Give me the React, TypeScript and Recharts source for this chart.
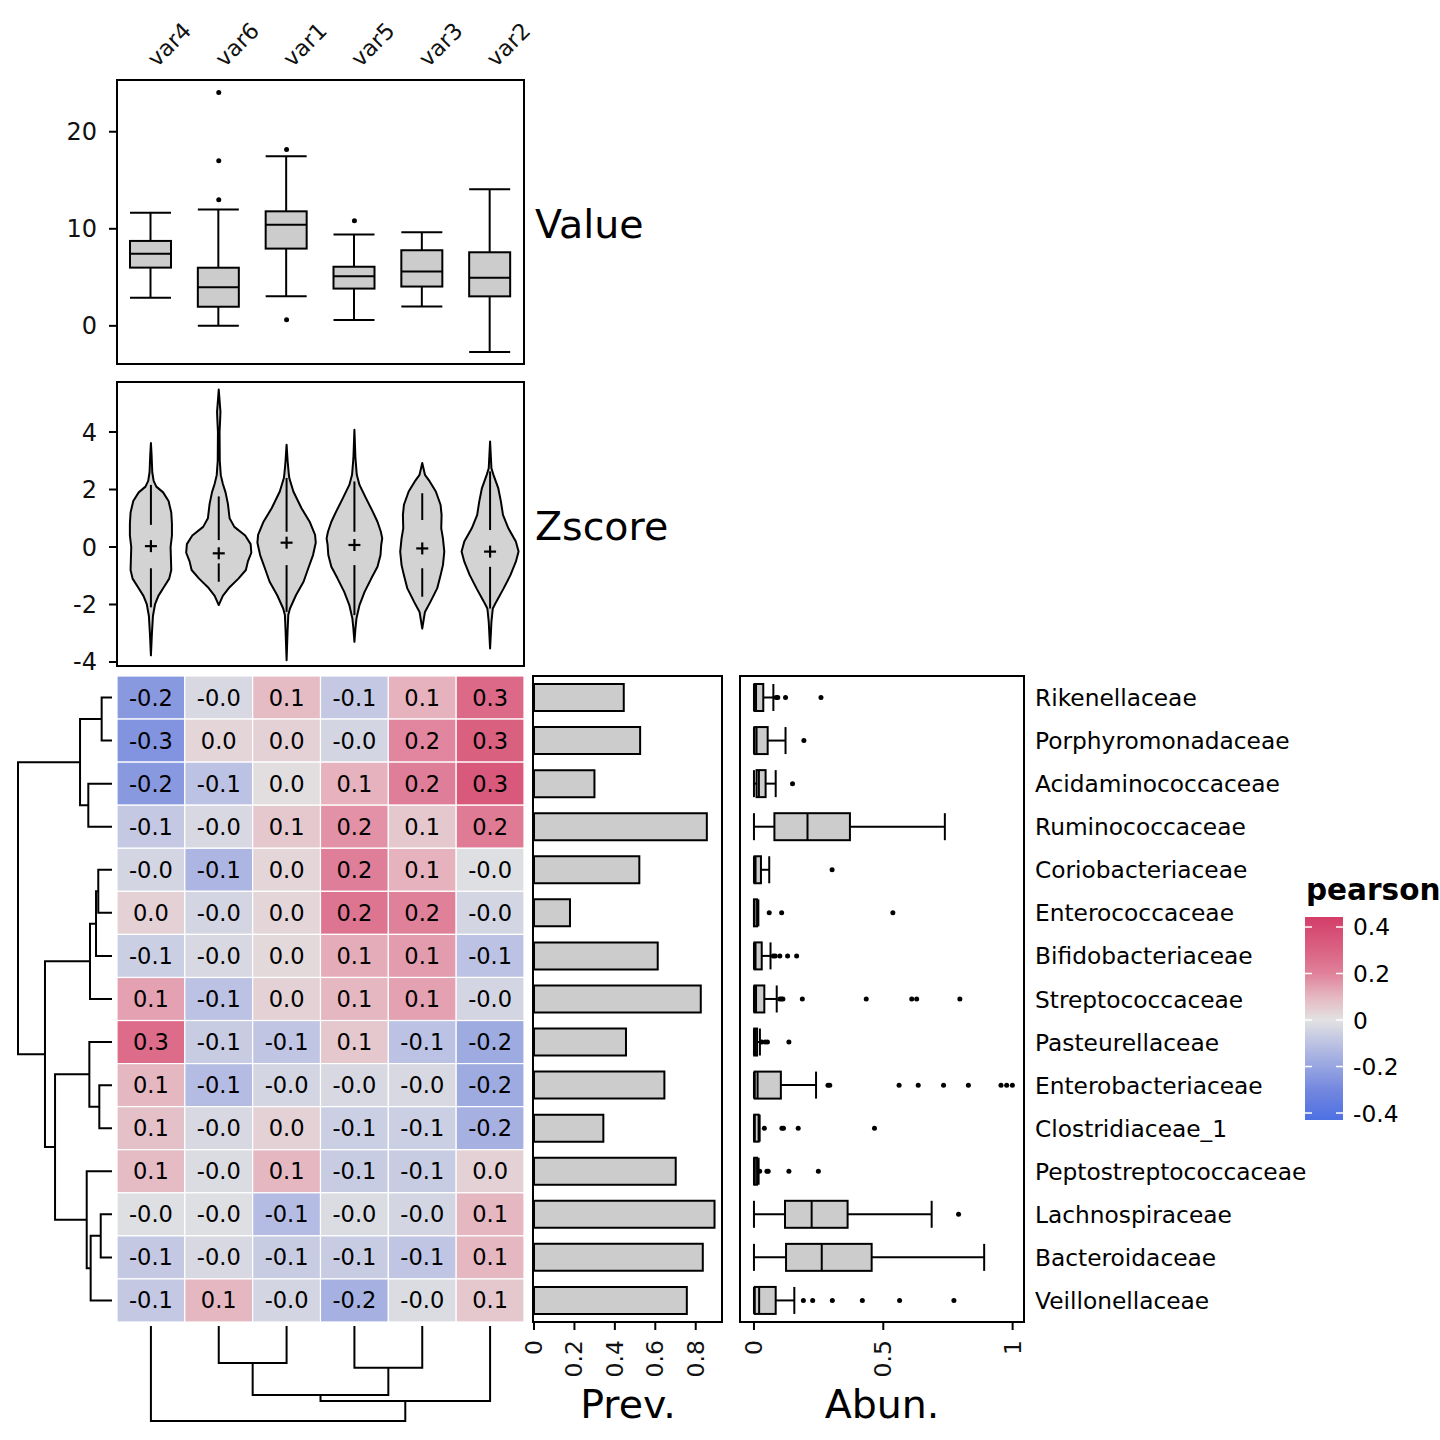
import React from 'react';
import { ComposedChart, ScatterChart, Scatter, Bar, XAxis, YAxis } from 'recharts';

const FONT = '"DejaVu Sans", Verdana, sans-serif';
const INK = '#000000';
const TICK_INK = '#111111';
const BOX_FILL = '#cccccc';
const VIOLIN_FILL = '#d3d3d3';
const LW = 2;

const VARS = ['var4', 'var6', 'var1', 'var5', 'var3', 'var2'];
const FAMILIES = [
  'Rikenellaceae', 'Porphyromonadaceae', 'Acidaminococcaceae', 'Ruminococcaceae', 'Coriobacteriaceae',
  'Enterococcaceae', 'Bifidobacteriaceae', 'Streptococcaceae', 'Pasteurellaceae', 'Enterobacteriaceae',
  'Clostridiaceae_1', 'Peptostreptococcaceae', 'Lachnospiraceae', 'Bacteroidaceae', 'Veillonellaceae',
];

// "Value" panel: boxplot statistics per variable
const VALUE_LOW = [2.9, 0, 3.05, 0.6, 2.0, -2.7];
const VALUE_Q1 = [6.0, 1.97, 7.96, 3.84, 4.05, 3.04];
const VALUE_MEDIAN = [7.44, 3.98, 10.42, 5.12, 5.61, 4.95];
const VALUE_Q3 = [8.75, 5.99, 11.8, 6.09, 7.79, 7.58];
const VALUE_HIGH = [11.66, 12.0, 17.47, 9.41, 9.65, 14.08];
const VALUE_OUTLIERS = [[], [24.05, 17.02, 12.98], [18.17, 0.62], [10.83], [], []];
const VALUE_TICKS = [0, 10, 20];

// "Zscore" panel: violin half-width (in columns) at z levels, top to bottom
const VIOLIN_VAR4 = [[3.62, 0], [3.2, 0.01], [2.6, 0.02], [2.3, 0.04], [2.1, 0.08], [1.9, 0.18], [1.6, 0.26], [1.2, 0.3], [0.8, 0.31], [0.4, 0.31], [0, 0.29], [-0.4, 0.295], [-0.8, 0.3], [-1.1, 0.27], [-1.4, 0.19], [-1.7, 0.11], [-2, 0.06], [-2.4, 0.03], [-3, 0.015], [-3.77, 0]];
const VIOLIN_VAR6 = [[5.48, 0], [5.1, 0.012], [4.7, 0.025], [4.4, 0.02], [4.0, 0.012], [3.0, 0.015], [2.5, 0.03], [2.2, 0.06], [1.9, 0.1], [1.5, 0.135], [1.0, 0.16], [0.7, 0.23], [0.4, 0.39], [0.1, 0.47], [-0.2, 0.48], [-0.5, 0.43], [-0.8, 0.4], [-1.1, 0.29], [-1.4, 0.16], [-1.7, 0.06], [-2.02, 0]];
const VIOLIN_VAR1 = [[3.56, 0], [3.0, 0.015], [2.6, 0.03], [2.4, 0.04], [1.93, 0.1], [1.35, 0.22], [0.88, 0.34], [0.42, 0.42], [0.15, 0.43], [-0.28, 0.39], [-0.74, 0.32], [-1.21, 0.25], [-1.67, 0.14], [-2.14, 0.05], [-2.37, 0.025], [-2.9, 0.015], [-3.94, 0]];
const VIOLIN_VAR5 = [[4.08, 0], [3.09, 0.015], [2.51, 0.035], [2.16, 0.075], [1.7, 0.17], [1.23, 0.27], [0.88, 0.34], [0.53, 0.39], [0.3, 0.41], [0.07, 0.395], [-0.28, 0.385], [-0.69, 0.34], [-1.09, 0.25], [-1.56, 0.15], [-2.02, 0.075], [-2.49, 0.03], [-2.84, 0.015], [-3.3, 0]];
const VIOLIN_VAR3 = [[2.92, 0], [2.51, 0.04], [2.28, 0.11], [1.93, 0.2], [1.47, 0.27], [1.12, 0.285], [0.65, 0.28], [0.3, 0.305], [-0.16, 0.325], [-0.63, 0.305], [-0.98, 0.27], [-1.44, 0.22], [-1.91, 0.12], [-2.26, 0.04], [-2.84, 0]];
const VIOLIN_VAR2 = [[3.67, 0], [2.74, 0.02], [2.51, 0.05], [2.05, 0.12], [1.58, 0.16], [1.12, 0.19], [0.65, 0.27], [0.19, 0.38], [-0.16, 0.42], [-0.51, 0.38], [-0.98, 0.3], [-1.44, 0.2], [-1.91, 0.09], [-2.14, 0.04], [-2.6, 0.02], [-3.53, 0]];
const VIOLIN_PROFILES = [VIOLIN_VAR4, VIOLIN_VAR6, VIOLIN_VAR1, VIOLIN_VAR5, VIOLIN_VAR3, VIOLIN_VAR2];
const Z_MEAN = [0.03, -0.22, 0.15, 0.07, -0.05, -0.16];
const Z_UPPER = [[2.16, 0.77], [1.76, 0.24], [2.4, 0.53], [2.28, 0.53], [1.87, 0.94], [2.63, 0.59]];
const Z_LOWER = [[-0.74, -2.1], [-0.57, -1.21], [-0.63, -2.26], [-0.63, -2.37], [-0.74, -1.73], [-0.69, -2.14]];
const Z_TICKS = [-4, -2, 0, 2, 4];

// heatmap: pearson r, rows = FAMILIES, columns = VARS
const PEARSON = [
  [-0.24, -0.03, 0.09, -0.08, 0.11, 0.28],
  [-0.26, 0.03, 0.04, -0.04, 0.19, 0.31],
  [-0.24, -0.1, 0.01, 0.11, 0.21, 0.34],
  [-0.08, -0.03, 0.06, 0.17, 0.06, 0.22],
  [-0.04, -0.14, 0.03, 0.21, 0.11, -0.01],
  [0.04, -0.04, 0.03, 0.24, 0.2, -0.04],
  [-0.06, -0.03, 0.02, 0.12, 0.15, -0.1],
  [0.14, -0.1, 0.04, 0.1, 0.14, -0.04],
  [0.27, -0.07, -0.09, 0.06, -0.1, -0.18],
  [0.1, -0.12, -0.04, -0.03, -0.03, -0.18],
  [0.08, -0.03, 0.04, -0.06, -0.06, -0.16],
  [0.09, -0.02, 0.1, -0.07, -0.07, 0.04],
  [-0.01, -0.01, -0.12, -0.02, -0.04, 0.1],
  [-0.08, -0.03, -0.07, -0.07, -0.09, 0.1],
  [-0.08, 0.1, -0.04, -0.16, -0.02, 0.06],
];

// "Prev." panel
const PREVALENCE = [0.444, 0.525, 0.299, 0.855, 0.521, 0.178, 0.612, 0.825, 0.455, 0.645, 0.343, 0.701, 0.893, 0.835, 0.756];
const PREV_TICKS = [0, 0.2, 0.4, 0.6, 0.8];

// "Abun." panel: boxplot statistics per family
const ABUN_LOW = [0, 0, 0, 0, 0, 0, 0, 0, 0, 0, 0, 0, 0, 0, 0];
const ABUN_Q1 = [0.002, 0.002, 0.01, 0.079, 0.002, 0, 0.002, 0.002, 0.001, 0.003, 0.001, 0.001, 0.12, 0.124, 0.003];
const ABUN_MEDIAN = [0.008, 0.01, 0.019, 0.207, 0.006, 0.002, 0.006, 0.008, 0.004, 0.014, 0.003, 0.003, 0.223, 0.262, 0.02];
const ABUN_Q3 = [0.036, 0.053, 0.045, 0.371, 0.027, 0.012, 0.03, 0.04, 0.012, 0.104, 0.018, 0.012, 0.362, 0.455, 0.084];
const ABUN_HIGH = [0.075, 0.122, 0.084, 0.738, 0.059, 0.017, 0.064, 0.088, 0.023, 0.24, 0.022, 0.018, 0.687, 0.89, 0.156];
const ABUN_OUTLIERS = [
  [0.086, 0.092, 0.122, 0.259],
  [0.193],
  [0.149],
  [],
  [0.302],
  [0.059, 0.107, 0.537],
  [0.075, 0.082, 0.1, 0.13, 0.165],
  [0.1, 0.106, 0.112, 0.187, 0.434, 0.61, 0.629, 0.796],
  [0.03, 0.043, 0.052, 0.135],
  [0.286, 0.293, 0.561, 0.635, 0.733, 0.829, 0.955, 0.977, 0.999],
  [0.04, 0.108, 0.114, 0.171, 0.466],
  [0.022, 0.05, 0.055, 0.135, 0.249],
  [0.791],
  [],
  [0.191, 0.227, 0.303, 0.419, 0.563, 0.773],
];
const ABUN_TICKS = [0, 0.5, 1];

// dendrograms, hclust style: negative = leaf position, positive = earlier merge
const ROW_MERGES = [
  [-1, -2, 0.11], [-3, -4, 0.252], [1, 2, 0.34], [-5, -6, 0.146], [4, -7, 0.17],
  [5, -8, 0.234], [-10, -11, 0.135], [-9, 7, 0.241], [-13, -14, 0.12], [9, -15, 0.227],
  [-12, 10, 0.269], [8, 11, 0.606], [6, 12, 0.713], [3, 13, 1.0],
];
const COL_MERGES = [[-2, -3, 0.39], [-4, -5, 0.44], [1, 2, 0.726], [3, -6, 0.79], [-1, 4, 1.0]];

const LEGEND_TICKS = [0.4, 0.2, 0, -0.2, -0.4];
const PEARSON_STOPS: [number, string][] = [
  [-0.44, '#4a6fe3'], [-0.3, '#7487df'], [-0.2, '#97a5e1'], [-0.1, '#bcc2e3'], [0, '#e2e2e2'],
  [0.1, '#e5b7c1'], [0.2, '#e0819a'], [0.3, '#da6382'], [0.44, '#d33f6a'],
];

function hexRgb(h: string) {
  return [1, 3, 5].map((i) => parseInt(h.slice(i, i + 2), 16));
}

function pearsonColor(v: number) {
  const s = PEARSON_STOPS;
  if (v <= s[0][0]) return s[0][1];
  if (v >= s[s.length - 1][0]) return s[s.length - 1][1];
  for (let i = 1; i < s.length; i++) {
    if (v <= s[i][0]) {
      const t = (v - s[i - 1][0]) / (s[i][0] - s[i - 1][0]);
      const a = hexRgb(s[i - 1][1]);
      const b = hexRgb(s[i][1]);
      const c = a.map((x, k) => Math.round(x + (b[k] - x) * t));
      return `rgb(${c[0]},${c[1]},${c[2]})`;
    }
  }
  return s[0][1];
}

function dendroElbows(merges: number[][]) {
  const pos: number[] = [];
  const hgt: number[] = [];
  return merges.map(([a, b, h], i) => {
    const pa = a < 0 ? -a : pos[a - 1];
    const ha = a < 0 ? 0 : hgt[a - 1];
    const pb = b < 0 ? -b : pos[b - 1];
    const hb = b < 0 ? 0 : hgt[b - 1];
    pos[i] = (pa + pb) / 2;
    hgt[i] = h;
    return [{ p: pa, h: ha }, { p: pa, h }, { p: pb, h }, { p: pb, h: hb }];
  });
}

const CELL_W = 407 / 6;
const CELL_H = 646 / 15;

const NoMark = () => <g />;

function Dot(props: any) {
  return <circle cx={props.cx} cy={props.cy} r={2.5} fill={INK} />;
}

function PlusMark(props: any) {
  const { cx, cy } = props;
  return (
    <g stroke={INK} strokeWidth={2.2}>
      <line x1={cx - 6} x2={cx + 6} y1={cy} y2={cy} />
      <line x1={cx} x2={cx} y1={cy - 6} y2={cy + 6} />
    </g>
  );
}

function HeatCell(props: any) {
  const { cx, cy, payload } = props;
  return (
    <g>
      <rect x={cx - CELL_W / 2} y={cy - CELL_H / 2} width={CELL_W} height={CELL_H} fill={pearsonColor(payload.v)} stroke="#ffffff" strokeWidth={1.2} />
      <text x={cx} y={cy} textAnchor="middle" dominantBaseline="central" fontSize={22.5} fill={INK}>
        {payload.v.toFixed(1)}
      </text>
    </g>
  );
}

// vertical box: bar spans low..high, inner stats placed on the same linear scale
function VBox(props: any) {
  const { x, y, width, height, payload } = props;
  const top = Math.min(y, y + height);
  const h = Math.abs(height);
  const { low, q1, median, q3, high } = payload;
  const py = (v: number) => top + ((high - v) / (high - low)) * h;
  const cx = x + width / 2;
  return (
    <g stroke={INK} strokeWidth={LW}>
      <line x1={cx} x2={cx} y1={py(high)} y2={py(q3)} />
      <line x1={cx} x2={cx} y1={py(q1)} y2={py(low)} />
      <line x1={x} x2={x + width} y1={py(high)} y2={py(high)} />
      <line x1={x} x2={x + width} y1={py(low)} y2={py(low)} />
      <rect x={x} y={py(q3)} width={width} height={py(q1) - py(q3)} fill={BOX_FILL} />
      <line x1={x} x2={x + width} y1={py(median)} y2={py(median)} />
    </g>
  );
}

// horizontal box for the abundance panel
function HBox(props: any) {
  const { x, y, width, height, payload } = props;
  const left = Math.min(x, x + width);
  const w = Math.abs(width);
  const { low, q1, median, q3, high } = payload;
  const px = (v: number) => left + ((v - low) / (high - low)) * w;
  const cy = y + height / 2;
  return (
    <g stroke={INK} strokeWidth={LW}>
      <line x1={px(low)} x2={px(q1)} y1={cy} y2={cy} />
      <line x1={px(q3)} x2={px(high)} y1={cy} y2={cy} />
      <line x1={px(low)} x2={px(low)} y1={y} y2={y + height} />
      <line x1={px(high)} x2={px(high)} y1={y} y2={y + height} />
      <rect x={px(q1)} y={y} width={px(q3) - px(q1)} height={height} fill={BOX_FILL} />
      <line x1={px(median)} x2={px(median)} y1={y} y2={y + height} />
    </g>
  );
}

function violinPath(p: any) {
  const d = 'M' + p.points.map((pt: any) => `${pt.x},${pt.y}`).join('L') + 'Z';
  return <path d={d} fill={VIOLIN_FILL} stroke={INK} strokeWidth={LW} strokeLinejoin="round" />;
}

function VarTick(props: any) {
  const { x, payload } = props;
  const ax = x + 6;
  const ay = 68;
  return (
    <text x={ax} y={ay} transform={`rotate(-45, ${ax}, ${ay})`} fontSize={22.5} fill={TICK_INK}>
      {payload.value}
    </text>
  );
}

function RotTick(props: any) {
  const { x, y, payload } = props;
  return (
    <text x={x} y={y} transform={`rotate(-90, ${x}, ${y})`} textAnchor="end" dominantBaseline="central" fontSize={23.5} fill={TICK_INK}>
      {String(payload.value)}
    </text>
  );
}

function FamilyTick(props: any) {
  const { x, y, payload } = props;
  return (
    <text x={x} y={y} dominantBaseline="central" fontSize={23.3} fill={INK}>
      {payload.value}
    </text>
  );
}

const lineStyle = { stroke: INK, strokeWidth: LW };
const tickLineStyle = { stroke: INK, strokeWidth: LW };
const yTickText = { fontSize: 24, fill: TICK_INK };

export default function App() {
  const valueData = VARS.map((name, i) => ({
    name, low: VALUE_LOW[i], q1: VALUE_Q1[i], median: VALUE_MEDIAN[i], q3: VALUE_Q3[i], high: VALUE_HIGH[i],
  }));
  const valueOutliers = VALUE_OUTLIERS.flatMap((arr, i) => arr.map((v) => ({ x: i + 1, y: v })));

  const violins = VIOLIN_PROFILES.map((prof, i) => {
    const c = i + 1;
    const right = prof.map(([z, hw]) => ({ x: c + hw, y: z }));
    const left = prof.slice().reverse().map(([z, hw]) => ({ x: c - hw, y: z }));
    return right.concat(left);
  });

  const heatData = PEARSON.flatMap((row, r) => row.map((v, c) => ({ x: c + 1, y: r + 1, v })));

  const prevData = FAMILIES.map((name, i) => ({ name, prev: PREVALENCE[i] }));
  const abunData = FAMILIES.map((name, i) => ({
    name, low: ABUN_LOW[i], q1: ABUN_Q1[i], median: ABUN_MEDIAN[i], q3: ABUN_Q3[i], high: ABUN_HIGH[i],
  }));
  const abunOutliers = ABUN_OUTLIERS.flatMap((arr, i) => arr.map((v) => ({ x: v, y: i + 1 })));

  const rowElbows = dendroElbows(ROW_MERGES);
  const colElbows = dendroElbows(COL_MERGES);

  const legTop = 917;
  const legBottom = 1120;
  const legMax = 0.443;
  const legMin = -0.43;
  const legY = (v: number) => legTop + ((legMax - v) / (legMax - legMin)) * (legBottom - legTop);
  const gradStops = [legMax, ...PEARSON_STOPS.map((s) => s[0]).filter((v) => v < legMax && v > legMin).reverse(), legMin];

  return (
    <div style={{ position: 'absolute', left: 0, top: 0, width: 1440, height: 1440, background: '#ffffff', fontFamily: FONT, overflow: 'hidden' }}>
      {/* Value boxplots */}
      <div style={{ position: 'absolute', left: 0, top: 0 }}>
        <ComposedChart width={540} height={380} data={valueData} margin={{ top: 20, right: 16, bottom: 16, left: 57 }}>
          <XAxis dataKey="name" orientation="top" height={60} axisLine={false} tickLine={false} interval={0} tick={VarTick} />
          <YAxis type="number" domain={[-3.93, 25.33]} ticks={VALUE_TICKS} width={60} axisLine={false} tickSize={8} tickMargin={12} tickLine={tickLineStyle} tick={yTickText} />
          <Bar dataKey={(d: any) => [d.low, d.high]} barSize={41} shape={VBox} isAnimationActive={false} />
        </ComposedChart>
      </div>
      <div style={{ position: 'absolute', left: 0, top: 0 }}>
        <ScatterChart width={540} height={380} margin={{ top: 80, right: 16, bottom: 16, left: 117 }}>
          <XAxis type="number" dataKey="x" domain={[0.5, 6.5]} hide />
          <YAxis type="number" dataKey="y" domain={[-3.93, 25.33]} hide />
          <Scatter data={valueOutliers} shape={Dot} isAnimationActive={false} />
        </ScatterChart>
      </div>

      {/* Zscore violins */}
      <div style={{ position: 'absolute', left: 0, top: 370 }}>
        <ScatterChart width={540} height={310} margin={{ top: 12, right: 16, bottom: 14, left: 57 }}>
          <XAxis type="number" dataKey="x" domain={[0.5, 6.5]} hide />
          <YAxis type="number" dataKey="y" domain={[-4.14, 5.74]} ticks={Z_TICKS} width={60} axisLine={false} tickSize={8} tickMargin={12} tickLine={tickLineStyle} tick={yTickText} />
          {violins.map((pts, i) => (
            <Scatter key={`v${i}`} data={pts} line={violinPath} shape={NoMark} isAnimationActive={false} />
          ))}
          {Z_UPPER.map(([a, b], i) => (
            <Scatter key={`u${i}`} data={[{ x: i + 1, y: a }, { x: i + 1, y: b }]} line={lineStyle} shape={NoMark} isAnimationActive={false} />
          ))}
          {Z_LOWER.map(([a, b], i) => (
            <Scatter key={`l${i}`} data={[{ x: i + 1, y: a }, { x: i + 1, y: b }]} line={lineStyle} shape={NoMark} isAnimationActive={false} />
          ))}
          <Scatter data={Z_MEAN.map((m, i) => ({ x: i + 1, y: m }))} shape={PlusMark} isAnimationActive={false} />
        </ScatterChart>
      </div>

      {/* heatmap */}
      <div style={{ position: 'absolute', left: 117, top: 676 }}>
        <ScatterChart width={407} height={646} margin={{ top: 0, right: 0, bottom: 0, left: 0 }}>
          <XAxis type="number" dataKey="x" domain={[0.5, 6.5]} hide />
          <YAxis type="number" dataKey="y" domain={[0.5, 15.5]} reversed hide />
          <Scatter data={heatData} shape={HeatCell} isAnimationActive={false} />
        </ScatterChart>
      </div>

      {/* row dendrogram */}
      <div style={{ position: 'absolute', left: 0, top: 676 }}>
        <ScatterChart width={112} height={646} margin={{ top: 0, right: 0, bottom: 0, left: 18 }}>
          <XAxis type="number" dataKey="h" domain={[0, 1]} reversed hide />
          <YAxis type="number" dataKey="p" domain={[0.5, 15.5]} reversed hide />
          {rowElbows.map((pts, i) => (
            <Scatter key={`r${i}`} data={pts} line={lineStyle} shape={NoMark} isAnimationActive={false} />
          ))}
        </ScatterChart>
      </div>

      {/* column dendrogram */}
      <div style={{ position: 'absolute', left: 117, top: 1322 }}>
        <ScatterChart width={407} height={110} margin={{ top: 4, right: 0, bottom: 11, left: 0 }}>
          <XAxis type="number" dataKey="p" domain={[0.5, 6.5]} hide />
          <YAxis type="number" dataKey="h" domain={[0, 1]} reversed hide />
          {colElbows.map((pts, i) => (
            <Scatter key={`c${i}`} data={pts} line={lineStyle} shape={NoMark} isAnimationActive={false} />
          ))}
        </ScatterChart>
      </div>

      {/* Prev. bars */}
      <div style={{ position: 'absolute', left: 520, top: 676 }}>
        <ComposedChart layout="vertical" width={215} height={760} data={prevData} margin={{ top: 0, right: 13, bottom: 54, left: 13 }}>
          <YAxis type="category" dataKey="name" hide />
          <XAxis type="number" domain={[-0.005, 0.93]} ticks={PREV_TICKS} height={60} axisLine={false} tickSize={8} tickMargin={10} tickLine={tickLineStyle} interval={0} tick={RotTick} />
          <Bar dataKey="prev" barSize={27} fill={BOX_FILL} stroke={INK} strokeWidth={LW} isAnimationActive={false} />
        </ComposedChart>
      </div>

      {/* Abun. boxplots */}
      <div style={{ position: 'absolute', left: 735, top: 676 }}>
        <ComposedChart layout="vertical" width={600} height={760} data={abunData} margin={{ top: 0, right: 11, bottom: 54, left: 5 }}>
          <YAxis type="category" dataKey="name" orientation="right" width={300} axisLine={false} tickLine={false} tickSize={0} tickMargin={11} interval={0} tick={FamilyTick} />
          <XAxis type="number" domain={[-0.054, 1.044]} ticks={ABUN_TICKS} height={60} axisLine={false} tickSize={8} tickMargin={10} tickLine={tickLineStyle} interval={0} tick={RotTick} />
          <Bar dataKey={(d: any) => [d.low, d.high]} barSize={27} shape={HBox} isAnimationActive={false} />
        </ComposedChart>
      </div>
      <div style={{ position: 'absolute', left: 735, top: 676 }}>
        <ScatterChart width={300} height={646} margin={{ top: 0, right: 11, bottom: 0, left: 5 }}>
          <XAxis type="number" dataKey="x" domain={[-0.054, 1.044]} hide />
          <YAxis type="number" dataKey="y" domain={[0.5, 15.5]} reversed hide />
          <Scatter data={abunOutliers} shape={Dot} isAnimationActive={false} />
        </ScatterChart>
      </div>

      {/* frames, titles, legend */}
      <svg width={1440} height={1440} style={{ position: 'absolute', left: 0, top: 0, pointerEvents: 'none' }}>
        <g fill="none" stroke={INK} strokeWidth={2}>
          <rect x={117} y={80} width={407} height={284} />
          <rect x={117} y={382} width={407} height={284} />
          <rect x={533} y={676} width={189} height={646} />
          <rect x={740} y={676} width={284} height={646} />
        </g>
        <g fontSize={39.5} fill={INK}>
          <text x={535} y={238}>Value</text>
          <text x={535} y={540}>Zscore</text>
          <text x={628} y={1418} textAnchor="middle">Prev.</text>
          <text x={882} y={1418} textAnchor="middle">Abun.</text>
        </g>
        <text x={1306} y={900} fontSize={29.5} fontWeight="bold" fill={INK}>pearson</text>
        <defs>
          <linearGradient id="pearsonGrad" x1="0" y1="0" x2="0" y2="1">
            {gradStops.map((v, i) => (
              <stop key={i} offset={(legMax - v) / (legMax - legMin)} stopColor={pearsonColor(v)} />
            ))}
          </linearGradient>
        </defs>
        <rect x={1305} y={legTop} width={38} height={legBottom - legTop} fill="url(#pearsonGrad)" />
        {LEGEND_TICKS.map((v) => (
          <g key={v}>
            <line x1={1305} x2={1312} y1={legY(v)} y2={legY(v)} stroke="#ffffff" strokeWidth={1.5} />
            <line x1={1336} x2={1343} y1={legY(v)} y2={legY(v)} stroke="#ffffff" strokeWidth={1.5} />
            <text x={1353} y={legY(v)} dominantBaseline="central" fontSize={23.3} fill={INK}>{String(v)}</text>
          </g>
        ))}
      </svg>
    </div>
  );
}
